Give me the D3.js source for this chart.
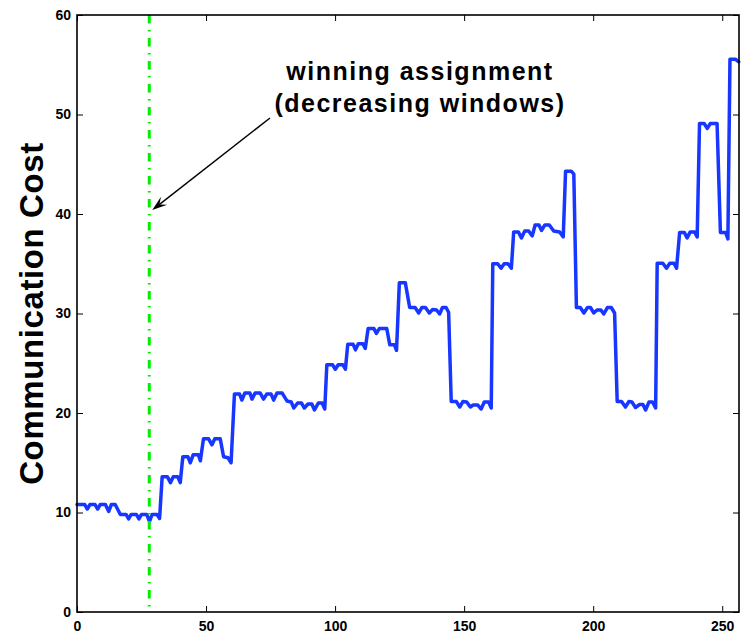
<!DOCTYPE html>
<html>
<head>
<meta charset="utf-8">
<script src="https://cdn.jsdelivr.net/npm/d3@7/dist/d3.min.js"></script>
<style>
  html, body { margin: 0; padding: 0; background: #fff; }
  svg { display: block; }
  text { font-family: "Liberation Sans", Arial, Helvetica, sans-serif; font-weight: bold; }
</style>
</head>
<body>
<svg id="chart" width="741" height="634"></svg>
<script>
// Round index (x) and communication cost (y) of each vertex of the curve
const rounds = [
  0, 3, 4, 5, 7, 8, 9, 11, 12.3, 13.3, 14.8, 16.8, 19, 20, 21, 23, 24, 25, 27, 28.1, 29.1, 31, 32, 33,
  35, 36.2, 37.3, 39, 40, 41, 43, 43.9, 45, 47, 47.8, 49, 51, 52.3, 53.4, 55.5, 56.8, 58.5, 59.7, 61,
  63, 63.9, 65, 67, 67.8, 69, 71, 72.3, 73.5, 75.2, 76.2, 77.5, 79.5, 81.4, 83, 84, 85.5, 87, 88.1, 89.5, 91, 92, 93.5, 95, 96, 96.8,
  99, 100.1, 101.2, 103, 104, 104.9, 107, 107.9, 109, 110.8, 111.7, 112.8, 115, 116, 117.2, 120, 121.2, 123, 123.8, 124.9, 127.2, 128.9, 131, 132.4, 133.6, 135, 136.5, 137.8, 139.3, 140.5, 141.6, 143, 144, 145,
  147, 148.3, 149.5, 151, 152.4, 153.5, 155.3, 156.6, 157.8, 159.5, 160.5, 161.1,
  163, 164.3, 165.5, 167, 168.3, 169.2, 171, 172.2, 173.5, 175, 176.4, 177.5, 179, 180, 181.3, 183, 184.7, 187, 188.4, 189.3, 191.5, 192.5, 193.5,
  195, 196.4, 197.8, 199, 200.2, 201.5, 203, 204.1, 205.5, 207, 208.3, 209.3,
  211, 212.5, 213.8, 215, 216.4, 218, 219.3, 220.3, 221.6, 223, 224.2, 224.8,
  227, 228.4, 229.7, 231.3, 232.3, 233.5, 235.3, 236.4, 237.6, 239.3, 240.3, 241.2, 243, 244.2, 245.4, 248, 249.3, 251.3, 252.2, 253, 255.2, 256.4
];
const costs = [
  10.8, 10.8, 10.35, 10.8, 10.8, 10.35, 10.8, 10.8, 10.1, 10.8, 10.8, 9.8, 9.8, 9.35, 9.8, 9.8, 9.35, 9.8, 9.8, 9.1, 9.8, 9.8, 9.4, 13.6,
  13.6, 13.0, 13.6, 13.6, 13.0, 15.6, 15.6, 15.0, 15.8, 15.8, 15.2, 17.4, 17.4, 16.8, 17.4, 17.4, 15.6, 15.5, 15.0, 21.9,
  21.9, 21.3, 22.0, 22.0, 21.4, 22.0, 22.0, 21.4, 21.9, 21.9, 21.3, 22.0, 22.0, 21.2, 21.1, 20.5, 21.0, 21.0, 20.5, 20.9, 20.9, 20.3, 21.0, 21.0, 20.4, 24.85,
  24.85, 24.4, 24.85, 24.85, 24.4, 26.9, 26.9, 26.35, 26.95, 26.95, 26.5, 28.5, 28.5, 28.0, 28.5, 28.5, 26.85, 26.85, 26.3, 33.1, 33.1, 30.6, 30.6, 30.05, 30.6, 30.6, 30.05, 30.4, 30.35, 29.95, 30.6, 30.6, 30.1, 21.15,
  21.15, 20.6, 21.15, 21.1, 20.6, 20.8, 20.8, 20.4, 21.1, 21.1, 20.5, 35.0,
  35.0, 34.55, 35.0, 35.0, 34.55, 38.2, 38.2, 37.6, 38.3, 38.3, 37.8, 38.9, 38.9, 38.35, 38.9, 38.9, 38.3, 38.2, 37.7, 44.3, 44.3, 44.0, 30.6,
  30.6, 30.05, 30.6, 30.6, 30.05, 30.35, 30.35, 29.95, 30.6, 30.6, 30.05, 21.15,
  21.15, 20.6, 21.15, 21.1, 20.55, 20.85, 20.85, 20.3, 21.1, 21.1, 20.5, 35.05,
  35.05, 34.55, 35.05, 35.05, 34.55, 38.15, 38.15, 37.6, 38.2, 38.2, 37.7, 49.1, 49.1, 48.6, 49.1, 49.1, 38.15, 38.15, 37.5, 55.55, 55.55, 55.3
];

// Axis ticks
const xTicks = [0, 50, 100, 150, 200, 250];
const yTicks = [0, 10, 20, 30, 40, 50, 60];

// Marked round and its note
const markerRound = 28;
const noteLines = ["winning assignment", "(decreasing windows)"];
const yTitle = "Communication Cost";

const W = 741, H = 634;
const margin = { left: 77, right: 2, top: 15, bottom: 22 };
const svg = d3.select("#chart");

const x = d3.scaleLinear().domain([0, 256.5]).range([margin.left, W - margin.right]);
const y = d3.scaleLinear().domain([0, 60]).range([H - margin.bottom, margin.top]);

const x0 = x.range()[0], x1 = x.range()[1];
const y0 = y.range()[0], y1 = y.range()[1];

// Data curve
const pts = rounds.map((r, i) => [r, costs[i]]);
svg.append("path")
  .datum(pts)
  .attr("fill", "none")
  .attr("stroke", "#1736ff")
  .attr("stroke-width", 3.5)
  .attr("stroke-linejoin", "round")
  .attr("stroke-linecap", "round")
  .attr("d", d3.line().x(d => x(d[0])).y(d => y(d[1])));

// Dash-dot marker line
svg.append("line")
  .attr("x1", x(markerRound)).attr("x2", x(markerRound))
  .attr("y1", y1).attr("y2", y0)
  .attr("stroke", "#00ee00")
  .attr("stroke-width", 3)
  .attr("stroke-dasharray", "8.5,6.5,1.5,6.5");

// Axes with inward ticks on all four sides
const tickLen = 6;
const gx = svg.append("g").attr("transform", `translate(0,${y0})`)
  .call(d3.axisBottom(x).tickValues(xTicks).tickSize(-tickLen).tickPadding(9).tickFormat(d3.format("d")));
const gxTop = svg.append("g").attr("transform", `translate(0,${y1})`)
  .call(d3.axisTop(x).tickValues(xTicks).tickSize(-tickLen).tickFormat(""));
const gy = svg.append("g").attr("transform", `translate(${x0},0)`)
  .call(d3.axisLeft(y).tickValues(yTicks).tickSize(-tickLen).tickPadding(6).tickFormat(d3.format("d")));
const gyRight = svg.append("g").attr("transform", `translate(${x1},0)`)
  .call(d3.axisRight(y).tickValues(yTicks).tickSize(-tickLen).tickFormat(""));

[gx, gxTop, gy, gyRight].forEach(g => {
  g.select(".domain").remove();
  g.selectAll(".tick line").attr("stroke", "#000").attr("stroke-width", 1);
});
[gx, gy].forEach(g => {
  g.selectAll(".tick text").attr("font-size", 14).attr("fill", "#000")
    .attr("font-family", "'Liberation Sans', Arial, sans-serif").attr("font-weight", "bold");
});

// Plot frame
svg.append("rect")
  .attr("x", x0).attr("y", y1)
  .attr("width", x1 - x0).attr("height", y0 - y1)
  .attr("fill", "none").attr("stroke", "#000").attr("stroke-width", 1.6);

// Y axis title
svg.append("text")
  .attr("transform", `translate(43,${(y0 + y1) / 2}) rotate(-90)`)
  .attr("text-anchor", "middle")
  .attr("font-size", 33)
  .attr("letter-spacing", 0.6)
  .attr("fill", "#000")
  .text(yTitle);

// Note text
const note = svg.append("text")
  .attr("text-anchor", "middle")
  .attr("font-size", 25)
  .attr("letter-spacing", 1.5)
  .attr("fill", "#000");
noteLines.forEach((t, i) => {
  note.append("tspan").attr("x", 420).attr("y", 80 + i * 32).text(t);
});

// Arrow from the note to the marker line
const ax1 = 270, ay1 = 118, ax2 = x(markerRound) + 3, ay2 = 210;
const ang = Math.atan2(ay2 - ay1, ax2 - ax1);
const headLen = 15, headW = 5;
svg.append("line")
  .attr("x1", ax1).attr("y1", ay1)
  .attr("x2", ax2 - Math.cos(ang) * 8).attr("y2", ay2 - Math.sin(ang) * 8)
  .attr("stroke", "#000").attr("stroke-width", 1.4);
const bx = ax2 - Math.cos(ang) * headLen, by = ay2 - Math.sin(ang) * headLen;
const nx = -Math.sin(ang), ny = Math.cos(ang);
const notch = [ax2 - Math.cos(ang) * headLen * 0.6, ay2 - Math.sin(ang) * headLen * 0.6];
svg.append("path")
  .attr("d", `M${ax2},${ay2} L${bx + nx * headW},${by + ny * headW} L${notch[0]},${notch[1]} L${bx - nx * headW},${by - ny * headW} Z`)
  .attr("fill", "#000");
</script>
</body>
</html>
